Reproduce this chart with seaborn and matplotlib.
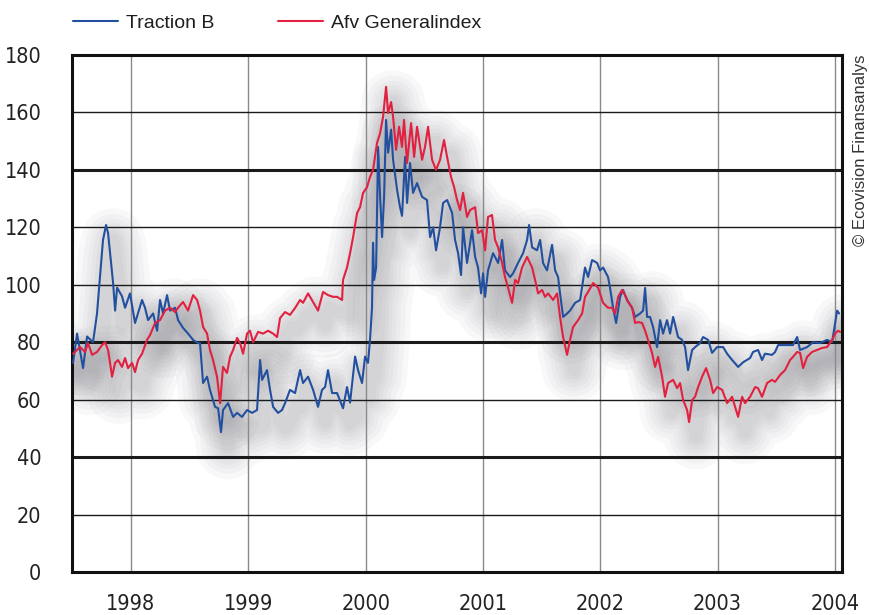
import pandas as pd
import matplotlib.pyplot as plt
import matplotlib.patheffects as pe
from matplotlib import font_manager
import seaborn as sns

# Traction B (blue)
trac_year = [1997.506, 1997.540, 1997.591, 1997.625, 1997.676, 1997.710, 1997.736, 1997.761,
             1997.787, 1997.804, 1997.821, 1997.847, 1997.864, 1997.881, 1997.923, 1997.949,
             1997.991, 1998.034, 1998.051, 1998.094, 1998.119, 1998.145, 1998.188, 1998.222,
             1998.247, 1998.273, 1998.307, 1998.332, 1998.375, 1998.401, 1998.443, 1998.486,
             1998.529, 1998.571, 1998.588, 1998.614, 1998.648, 1998.673, 1998.716, 1998.742,
             1998.767, 1998.784, 1998.827, 1998.870, 1998.904, 1998.946, 1998.989, 1999.032,
             1999.074, 1999.100, 1999.117, 1999.159, 1999.185, 1999.211, 1999.253, 1999.287,
             1999.313, 1999.355, 1999.398, 1999.441, 1999.466, 1999.509, 1999.552, 1999.594,
             1999.628, 1999.654, 1999.679, 1999.714, 1999.756, 1999.807, 1999.841, 1999.867,
             1999.910, 1999.935, 1999.969, 1999.995, 2000.020, 2000.037, 2000.054, 2000.063,
             2000.072, 2000.089, 2000.106, 2000.123, 2000.140, 2000.157, 2000.174, 2000.191,
             2000.217, 2000.234, 2000.268, 2000.293, 2000.310, 2000.336, 2000.353, 2000.378,
             2000.404, 2000.438, 2000.481, 2000.523, 2000.549, 2000.575, 2000.600, 2000.634,
             2000.660, 2000.694, 2000.737, 2000.762, 2000.788, 2000.813, 2000.830, 2000.864,
             2000.907, 2000.933, 2000.958, 2000.984, 2001.001, 2001.018, 2001.043, 2001.086,
             2001.129, 2001.163, 2001.188, 2001.231, 2001.257, 2001.299, 2001.342, 2001.376,
             2001.393, 2001.419, 2001.461, 2001.487, 2001.512, 2001.546, 2001.589, 2001.615,
             2001.640, 2001.657, 2001.683, 2001.717, 2001.742, 2001.785, 2001.828, 2001.870,
             2001.896, 2001.930, 2001.973, 2001.998, 2002.024, 2002.066, 2002.083, 2002.109,
             2002.135, 2002.169, 2002.194, 2002.228, 2002.271, 2002.297, 2002.339, 2002.365,
             2002.382, 2002.399, 2002.424, 2002.450, 2002.484, 2002.510, 2002.535, 2002.569,
             2002.595, 2002.621, 2002.663, 2002.697, 2002.723, 2002.748, 2002.783, 2002.808,
             2002.851, 2002.876, 2002.919, 2002.953, 2002.996, 2003.047, 2003.081, 2003.124,
             2003.175, 2003.217, 2003.277, 2003.302, 2003.345, 2003.379, 2003.404, 2003.464,
             2003.490, 2003.516, 2003.592, 2003.643, 2003.678, 2003.703, 2003.763, 2003.814,
             2003.874, 2003.933, 2003.976, 2004.002, 2004.019, 2004.036]
trac_value = [72.8, 83, 71, 82, 80, 90, 103, 115.6,
              120.8, 118, 111, 100.6, 91, 99, 96, 92,
              97, 86.7, 89, 94.7, 92, 87.7, 90, 84,
              94.7, 90, 96.4, 91, 92, 87.7, 85, 83,
              80.8, 79.7, 79.7, 65.8, 68, 63.4, 57.5, 57,
              48.7, 56.4, 58.8, 54, 55.4, 54, 56.4, 55.4,
              56.4, 73.8, 66.9, 70.3, 63.4, 57.5, 55.4, 56.4,
              58.8, 63.4, 62.3, 70.3, 65.8, 68, 63.4, 57.5,
              63.4, 64.4, 70.3, 62.3, 62.3, 57, 64.4, 59,
              75, 70.3, 65.8, 75, 72.8, 80.8, 92, 114.6,
              101.7, 106, 148, 130.6, 116.6, 130.6, 157.4, 146,
              154, 143.5, 133, 127, 124, 144.5, 128.5, 142.4,
              132, 135.4, 130.6, 129.5, 116.6, 120, 112, 120,
              128.5, 129.5, 125, 115.6, 111, 103.4, 120, 107.6,
              119, 109.7, 106, 97, 104, 95.8, 105, 111,
              107.6, 115.6, 105, 102.7, 104, 107.6, 111, 115.6,
              120.8, 113, 112, 115.6, 107.6, 105, 113.9, 105,
              102.7, 97, 88.8, 90, 91, 93.7, 94.7, 106,
              102.7, 108.6, 107.6, 105, 106, 102.7, 99, 92,
              86.7, 95.8, 98.2, 94.7, 92, 88.8, 90, 91,
              98.9, 88.8, 88.8, 85.3, 78.3, 87.7, 83, 87.7,
              83, 88.8, 81.8, 80.8, 78.3, 70.3, 77.3, 78.3,
              79.7, 81.8, 80.8, 76.3, 78.3, 78.3, 76, 73.8,
              71.4, 73, 74.5, 76.6, 77.3, 73.8, 76, 75.6,
              76.6, 79, 79, 79, 81.8, 77.3, 78.3, 80,
              79.7, 80.8, 80, 86.7, 91, 90]

# Afv Generalindex (red)
afv_year = [1997.506, 1997.540, 1997.565, 1997.608, 1997.633, 1997.668, 1997.710, 1997.753,
            1997.778, 1997.804, 1997.821, 1997.838, 1997.864, 1997.889, 1997.923, 1997.949,
            1997.974, 1998.009, 1998.034, 1998.060, 1998.094, 1998.136, 1998.162, 1998.205,
            1998.247, 1998.290, 1998.332, 1998.375, 1998.401, 1998.443, 1998.486, 1998.529,
            1998.563, 1998.588, 1998.614, 1998.648, 1998.673, 1998.699, 1998.733, 1998.759,
            1998.784, 1998.818, 1998.844, 1998.870, 1998.904, 1998.929, 1998.955, 1998.989,
            1999.014, 1999.040, 1999.083, 1999.125, 1999.168, 1999.211, 1999.245, 1999.270,
            1999.313, 1999.355, 1999.398, 1999.441, 1999.466, 1999.509, 1999.552, 1999.594,
            1999.637, 1999.679, 1999.722, 1999.756, 1999.799, 1999.807, 1999.841, 1999.867,
            1999.893, 1999.927, 1999.952, 1999.978, 2000.012, 2000.037, 2000.063, 2000.097,
            2000.123, 2000.148, 2000.174, 2000.191, 2000.217, 2000.234, 2000.259, 2000.285,
            2000.310, 2000.327, 2000.353, 2000.387, 2000.413, 2000.438, 2000.481, 2000.506,
            2000.532, 2000.566, 2000.600, 2000.634, 2000.668, 2000.694, 2000.728, 2000.754,
            2000.779, 2000.805, 2000.830, 2000.864, 2000.890, 2000.933, 2000.958, 2000.992,
            2001.018, 2001.043, 2001.077, 2001.103, 2001.129, 2001.163, 2001.188, 2001.214,
            2001.248, 2001.274, 2001.299, 2001.333, 2001.376, 2001.419, 2001.444, 2001.470,
            2001.504, 2001.529, 2001.555, 2001.598, 2001.632, 2001.657, 2001.683, 2001.717,
            2001.742, 2001.768, 2001.811, 2001.845, 2001.870, 2001.896, 2001.939, 2001.981,
            2002.024, 2002.066, 2002.100, 2002.126, 2002.152, 2002.186, 2002.211, 2002.237,
            2002.271, 2002.297, 2002.322, 2002.356, 2002.382, 2002.407, 2002.441, 2002.467,
            2002.493, 2002.527, 2002.552, 2002.578, 2002.621, 2002.655, 2002.680, 2002.706,
            2002.740, 2002.757, 2002.783, 2002.808, 2002.834, 2002.868, 2002.902, 2002.936,
            2002.962, 2002.996, 2003.039, 2003.081, 2003.124, 2003.149, 2003.175, 2003.209,
            2003.234, 2003.277, 2003.320, 2003.345, 2003.379, 2003.422, 2003.464, 2003.490,
            2003.533, 2003.575, 2003.618, 2003.643, 2003.678, 2003.703, 2003.729, 2003.763,
            2003.805, 2003.848, 2003.890, 2003.933, 2003.976, 2004.002, 2004.027, 2004.044]
afv_value = [76, 77.3, 78.3, 76.6, 79.7, 75.6, 76.6, 79,
             80, 77.3, 72.8, 68, 72.8, 73.8, 71.4, 74.5,
             71, 72.8, 69.6, 73.8, 76, 80.8, 82.5, 86.7,
             87.7, 91, 92, 90.5, 92, 94, 91, 96.4,
             94.7, 91, 85.3, 83, 77.3, 73.8, 68, 58.8,
             71.4, 69.3, 74.9, 77.3, 81.5, 79.7, 76, 83,
             84, 80, 83.6, 83, 84, 83, 81.8, 88.4,
             90.5, 89.5, 91.9, 94.7, 93.7, 97, 94, 91,
             97.5, 96.4, 95.8, 95.8, 94.7, 101.7, 106, 111,
             116.6, 125, 127, 132, 134, 137.5, 140, 149.4,
             152.8, 158.4, 168.9, 159.8, 163.6, 158.4, 147, 155,
             148, 157.4, 142.4, 156.3, 144.5, 155, 143.5, 148,
             155, 143.5, 140, 143.5, 150.4, 144.5, 137.5, 134,
             129.5, 126, 132, 123.6, 126, 127, 118, 119,
             112, 123.6, 124.3, 115.6, 113, 107.6, 102.7, 99,
             93.7, 101.7, 100.6, 106, 109.7, 106, 101.7, 97,
             98.2, 95.8, 97, 94.7, 97, 88.8, 81.8, 75.6,
             80.8, 85.3, 87.7, 90, 95.8, 97.5, 100.6, 99,
             93.7, 92, 92, 90, 95.8, 98.2, 96.4, 94,
             92, 86.7, 87, 86.7, 84, 80.8, 76.3, 71.4,
             74.9, 68, 61, 65.8, 66.9, 64, 65.8, 59.9,
             56.4, 52.2, 59.9, 61, 64.4, 68, 71, 66.9,
             62.3, 64.4, 63.4, 58.8, 61, 57.5, 54, 61,
             58.8, 61, 64.4, 64, 61, 65.8, 66.9, 66.2,
             68.6, 70.3, 73.8, 74.9, 76.6, 76.3, 71, 74.9,
             76.6, 77.3, 78, 78.3, 80.8, 83, 84, 83.6]

year_ticks = [1998, 1999, 2000, 2001, 2002, 2003, 2004]
value_ticks = [0, 20, 40, 60, 80, 100, 120, 140, 160, 180]
heavy_lines = [40, 80, 140]

blue = '#22509e'
red = '#e2203f'

trac = pd.DataFrame({'year': trac_year, 'value': trac_value})
afv = pd.DataFrame({'year': afv_year, 'value': afv_value})

sns.set_style('white')
plt.rcParams['font.family'] = ['Liberation Sans', 'DejaVu Sans']

# pick a condensed face for the tick numbers if one is installed
installed = font_manager.fontManager.ttflist
narrow_family, narrow_stretch = 'Liberation Sans', 'normal'
for f in installed:
    if f.name == 'Liberation Sans Narrow':
        narrow_family, narrow_stretch = f.name, 'normal'
        break
else:
    for f in installed:
        if f.name == 'DejaVu Sans' and f.stretch == 'condensed' and f.style == 'normal':
            narrow_family, narrow_stretch = 'DejaVu Sans', 'condensed'
            break

fig = plt.figure(figsize=(8.69, 6.15), dpi=100)
ax = fig.add_axes([0.0829, 0.0699, 0.8861, 0.8407])

# soft drop shadow under both curves
shadow = [pe.SimpleLineShadow(offset=(5, -11), shadow_color='#4c4c58', alpha=0.035,
                              rho=1, linewidth=w) for w in (46, 38, 31, 25, 19, 14, 9)]
for df in (trac, afv):
    sns.lineplot(data=df, x='year', y='value', ax=ax, estimator=None, sort=False,
                 legend=False, path_effects=shadow, zorder=0.3)

sns.lineplot(data=trac, x='year', y='value', ax=ax, estimator=None, sort=False,
             color=blue, lw=1.5, label='Traction B', zorder=3)
sns.lineplot(data=afv, x='year', y='value', ax=ax, estimator=None, sort=False,
             color=red, lw=1.5, label='Afv Generalindex', zorder=3)

ax.set_xlim(1997.497, 2004.061)
ax.set_ylim(0, 180)
ax.set_xticks(year_ticks)
ax.set_yticks(value_ticks)
ax.set_xlabel('')
ax.set_ylabel('')

ax.set_axisbelow(True)
ax.grid(axis='x', color='#8a8a8a', lw=1.0)
ax.grid(axis='y', color='#1a1a1a', lw=1.0)
for val, gl in zip(ax.get_yticks(), ax.yaxis.get_gridlines()):
    if val in heavy_lines:
        gl.set_linewidth(2.2)

for sp in ax.spines.values():
    sp.set_color('#111111')
    sp.set_linewidth(2.2)

ax.tick_params(axis='both', length=0, colors='#222222')
ax.tick_params(axis='y', pad=22)
ax.tick_params(axis='x', pad=15.5)
tick_size = 15.5 if narrow_family != 'Liberation Sans' else 14
for lab in ax.get_xticklabels() + ax.get_yticklabels():
    lab.set_family([narrow_family, 'DejaVu Sans'])
    lab.set_stretch(narrow_stretch)
    lab.set_fontsize(tick_size)

handles, labels = ax.get_legend_handles_labels()
ax.get_legend().remove()
fig.legend(handles, labels, loc='center left', bbox_to_anchor=(73 / 869, 1 - 23 / 615),
           ncol=2, frameon=False, fontsize=14, borderpad=0, borderaxespad=0,
           handlelength=2.3, handletextpad=0.42, columnspacing=3.3, labelcolor='#1e1e1e')

fig.text(860 / 869, 1 - 55 / 615, '© Ecovision Finansanalys', rotation=90,
         ha='center', va='top', fontsize=12, color='#333333')

fig.savefig('out.png', dpi=100)
